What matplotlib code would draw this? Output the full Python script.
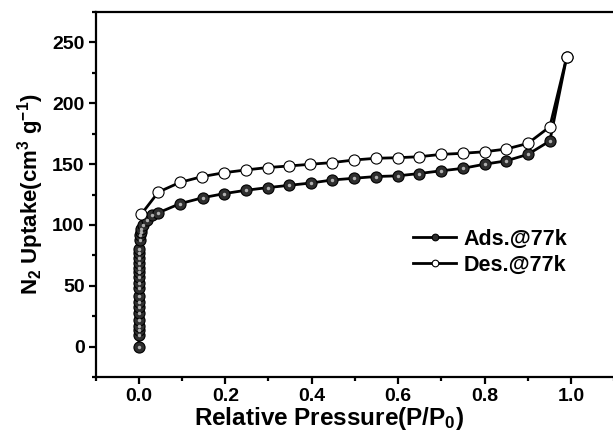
import matplotlib
matplotlib.use("Agg")
import matplotlib.pyplot as plt
from matplotlib.ticker import MultipleLocator

plt.rcParams['font.family'] = ['Liberation Sans', 'DejaVu Sans']
plt.rcParams['font.weight'] = 'bold'
plt.rcParams['mathtext.fontset'] = 'custom'
plt.rcParams['mathtext.rm'] = 'Liberation Sans:bold'
plt.rcParams['mathtext.bf'] = 'Liberation Sans:bold'
plt.rcParams['mathtext.it'] = 'Liberation Sans:bold'

# Adsorption branch (P/P0, uptake)
ads_p = [0.0, 0.0, 0.0, 0.0, 0.0, 0.0, 0.0, 0.0, 0.0, 0.0, 0.0, 0.0, 0.0, 0.0, 0.0,
         0.0, 0.0, 0.001, 0.002, 0.003, 0.004, 0.006, 0.009, 0.018, 0.03, 0.045,
         0.095, 0.149, 0.198, 0.247, 0.298, 0.348, 0.398, 0.448, 0.498, 0.548,
         0.6, 0.649, 0.699, 0.749, 0.801, 0.85, 0.9, 0.951, 0.99]
ads_v = [0, 10, 14, 17, 22, 28, 33, 37, 42, 48, 52, 57, 61, 65, 69,
         73, 77, 80, 88, 92, 94, 97, 100, 104, 108, 110,
         117.5, 122.5, 125.8, 128.5, 130.7, 132.6, 134.5, 137, 138.4, 139.8,
         140.4, 142.3, 144.5, 146.5, 150, 152.7, 158, 169, 238]

# Desorption branch
des_p = [0.99, 0.951, 0.9, 0.85, 0.801, 0.749, 0.699, 0.649, 0.6, 0.548,
         0.498, 0.448, 0.397, 0.348, 0.298, 0.247, 0.198, 0.147, 0.095, 0.045, 0.006]
des_v = [238, 180.7, 167, 162.4, 160.2, 158.9, 158, 156.1, 155.3, 154.8,
         153.4, 151.3, 149.9, 148.5, 147.2, 145.2, 143, 139.8, 135, 127, 109]

fig = plt.figure(figsize=(6.13, 4.36), dpi=100)
ax = fig.add_axes([0.156, 0.135, 0.846, 0.8375])

ax.plot(ads_p, ads_v, '-', color='black', lw=2.0, marker='o', ms=8,
        mfc='#2e2e2e', mec='black', mew=0.8, label='Ads.@77k', zorder=3)
# sphere highlight
ax.plot(ads_p, ads_v, 'o', ms=2.5, mfc='#b0b0b0', mec='none', zorder=4)
ax.plot(des_p, des_v, '-', color='black', lw=2.0, marker='o', ms=8,
        mfc='white', mec='black', mew=0.8, label='Des.@77k', zorder=5)

ax.set_xlim(-0.1, 1.1)
ax.set_ylim(-25, 275)
ax.xaxis.set_major_locator(MultipleLocator(0.2))
ax.xaxis.set_minor_locator(MultipleLocator(0.1))
ax.yaxis.set_major_locator(MultipleLocator(50))
ax.yaxis.set_minor_locator(MultipleLocator(25))
ax.xaxis.set_major_formatter(plt.FuncFormatter(lambda v, p: f"{v:.1f}"))

for s in ax.spines.values():
    s.set_linewidth(1.6)
ax.tick_params(which='major', direction='out', length=5, width=1.6,
               labelsize=14, top=False, right=False, pad=3)
ax.tick_params(which='minor', direction='out', length=3, width=1.6,
               top=False, right=False)
for lbl in ax.get_xticklabels() + ax.get_yticklabels():
    lbl.set_fontweight('bold')

ax.set_xlabel('Relative Pressure(P/P$_0$)', fontsize=17.5, fontweight='bold')
ax.xaxis.set_label_coords(0.45, -0.075)
ax.xaxis.label.set_va('top')
ax.set_ylabel('N$_2$ Uptake(cm$^3$ g$^{-1}$)', fontsize=16, fontweight='bold', labelpad=4)

leg = ax.legend(loc='upper left', bbox_to_anchor=(0.575, 0.46), frameon=False,
                fontsize=15.5, handlelength=2.0, handletextpad=0.35,
                labelspacing=0.25, markerscale=0.6)
for t in leg.get_texts():
    t.set_fontweight('bold')

fig.savefig('out.png', dpi=100)
